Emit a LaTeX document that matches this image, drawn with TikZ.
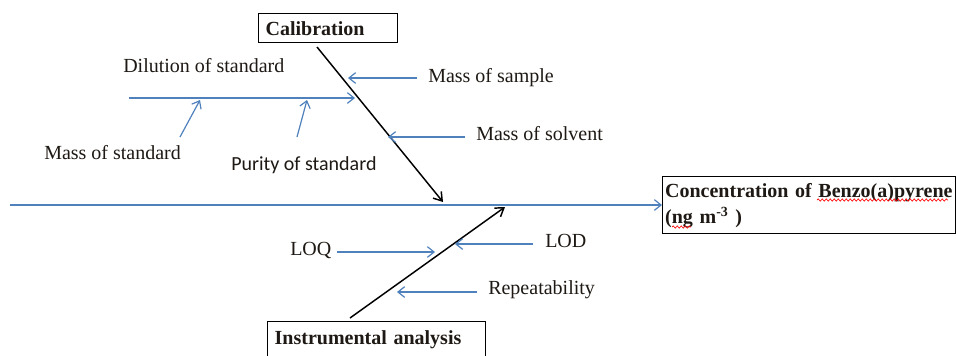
\documentclass[tikz,border=0pt]{standalone}
\usepackage{fontspec}
\setmainfont{Liberation Serif}
\newfontfamily\calibrifont{Carlito}
\usetikzlibrary{arrows.meta,decorations.pathmorphing}
\definecolor{boneblue}{RGB}{79,129,189}
\definecolor{inkdark}{RGB}{30,25,20}

\begin{document}
\begin{tikzpicture}[x=0.75pt,y=0.75pt,yscale=-1,xscale=1,
  lbl/.style={anchor=west,inner sep=0.75pt,text=inkdark,font=\fontsize{15}{17}\selectfont},
  bone/.style={draw=boneblue,line width=0.9pt,-{Straight Barb[length=5pt,width=8pt]}},
  spine/.style={draw=black,line width=1.1pt,-{Straight Barb[length=6pt,width=8pt]}},
  causebox/.style={draw,line width=1pt,anchor=north west,inner ysep=0pt,align=left,text=inkdark,font=\fontsize{15}{19.5}\selectfont\bfseries},
  spellwave/.style={draw=red,line width=0.5pt,decorate,decoration={snake,amplitude=0.8pt,segment length=3pt}}]
\clip (0,0) rectangle (957,355);
\fill[white] (0,0) rectangle (957,355);
% boxes
\node [causebox,text width=93.75pt,inner xsep=5.25pt,minimum height=21.75pt] (calib) at (258,13) {Calibration};
\node [causebox,text width=153pt,inner xsep=5.25pt,minimum height=27pt] (instr) at (267,321) {Instrumental analysis};
\node [causebox,text width=216pt,inner xsep=1.875pt,minimum height=42.75pt] (conc) at (662,176) {Concentration of Benzo(a)pyrene\\(ng m\textsuperscript{-3} )};
% labels
\node [lbl] (dil) at (122,66) {Dilution of standard};
\node [lbl] (mstd) at (43,153) {Mass of standard};
\node [lbl,font=\fontsize{15}{17}\selectfont\calibrifont] (pur) at (230,165) {Purity of standard};
\node [lbl] (msam) at (427,78) {Mass of sample};
\node [lbl] (msol) at (475,134) {Mass of solvent};
\node [lbl] (loq) at (289,250) {LOQ};
\node [lbl] (lod) at (544,241) {LOD};
\node [lbl] (rep) at (487,290) {Repeatability};
% free ends
\coordinate (axisS) at (10,205);
\coordinate (calS) at (317,47);
\coordinate (calE) at (443,202);
\coordinate (insS) at (350,318);
\coordinate (insE) at (505,207);
\coordinate (dilS) at (129,98);
\coordinate (dilE) at (355,98);
\coordinate (mstdS) at (180,137);
\coordinate (mstdE) at (200,100);
\coordinate (purS) at (297,137);
\coordinate (purE) at (307,100);
\coordinate (msamS) at (417,78);
\coordinate (msamE) at (348,78);
\coordinate (msolS) at (465,137);
\coordinate (msolE) at (388,137);
\coordinate (loqS) at (337,252);
\coordinate (loqE) at (435,252);
\coordinate (lodS) at (533,244);
\coordinate (lodE) at (455,244);
\coordinate (repS) at (477,292);
\coordinate (repE) at (397,292);
% main axis
\draw [bone] (axisS) -- (conc.west |- axisS);
% cause spines
\draw [spine] (calS) -- (calE);
\draw [spine] (insS) -- (insE);
% sub causes
\draw [bone] (dilS) -- (dilE);
\draw [bone] (mstdS) -- (mstdE);
\draw [bone] (purS) -- (purE);
\draw [bone] (msamS) -- (msamE);
\draw [bone] (msolS) -- (msolE);
\draw [bone] (loqS) -- (loqE);
\draw [bone] (lodS) -- (lodE);
\draw [bone] (repS) -- (repE);
% spelling marks
\draw [spellwave] (817,200) -- (948,200);
\draw [spellwave] (672,227) -- (691,227);
\end{tikzpicture}
\end{document}
